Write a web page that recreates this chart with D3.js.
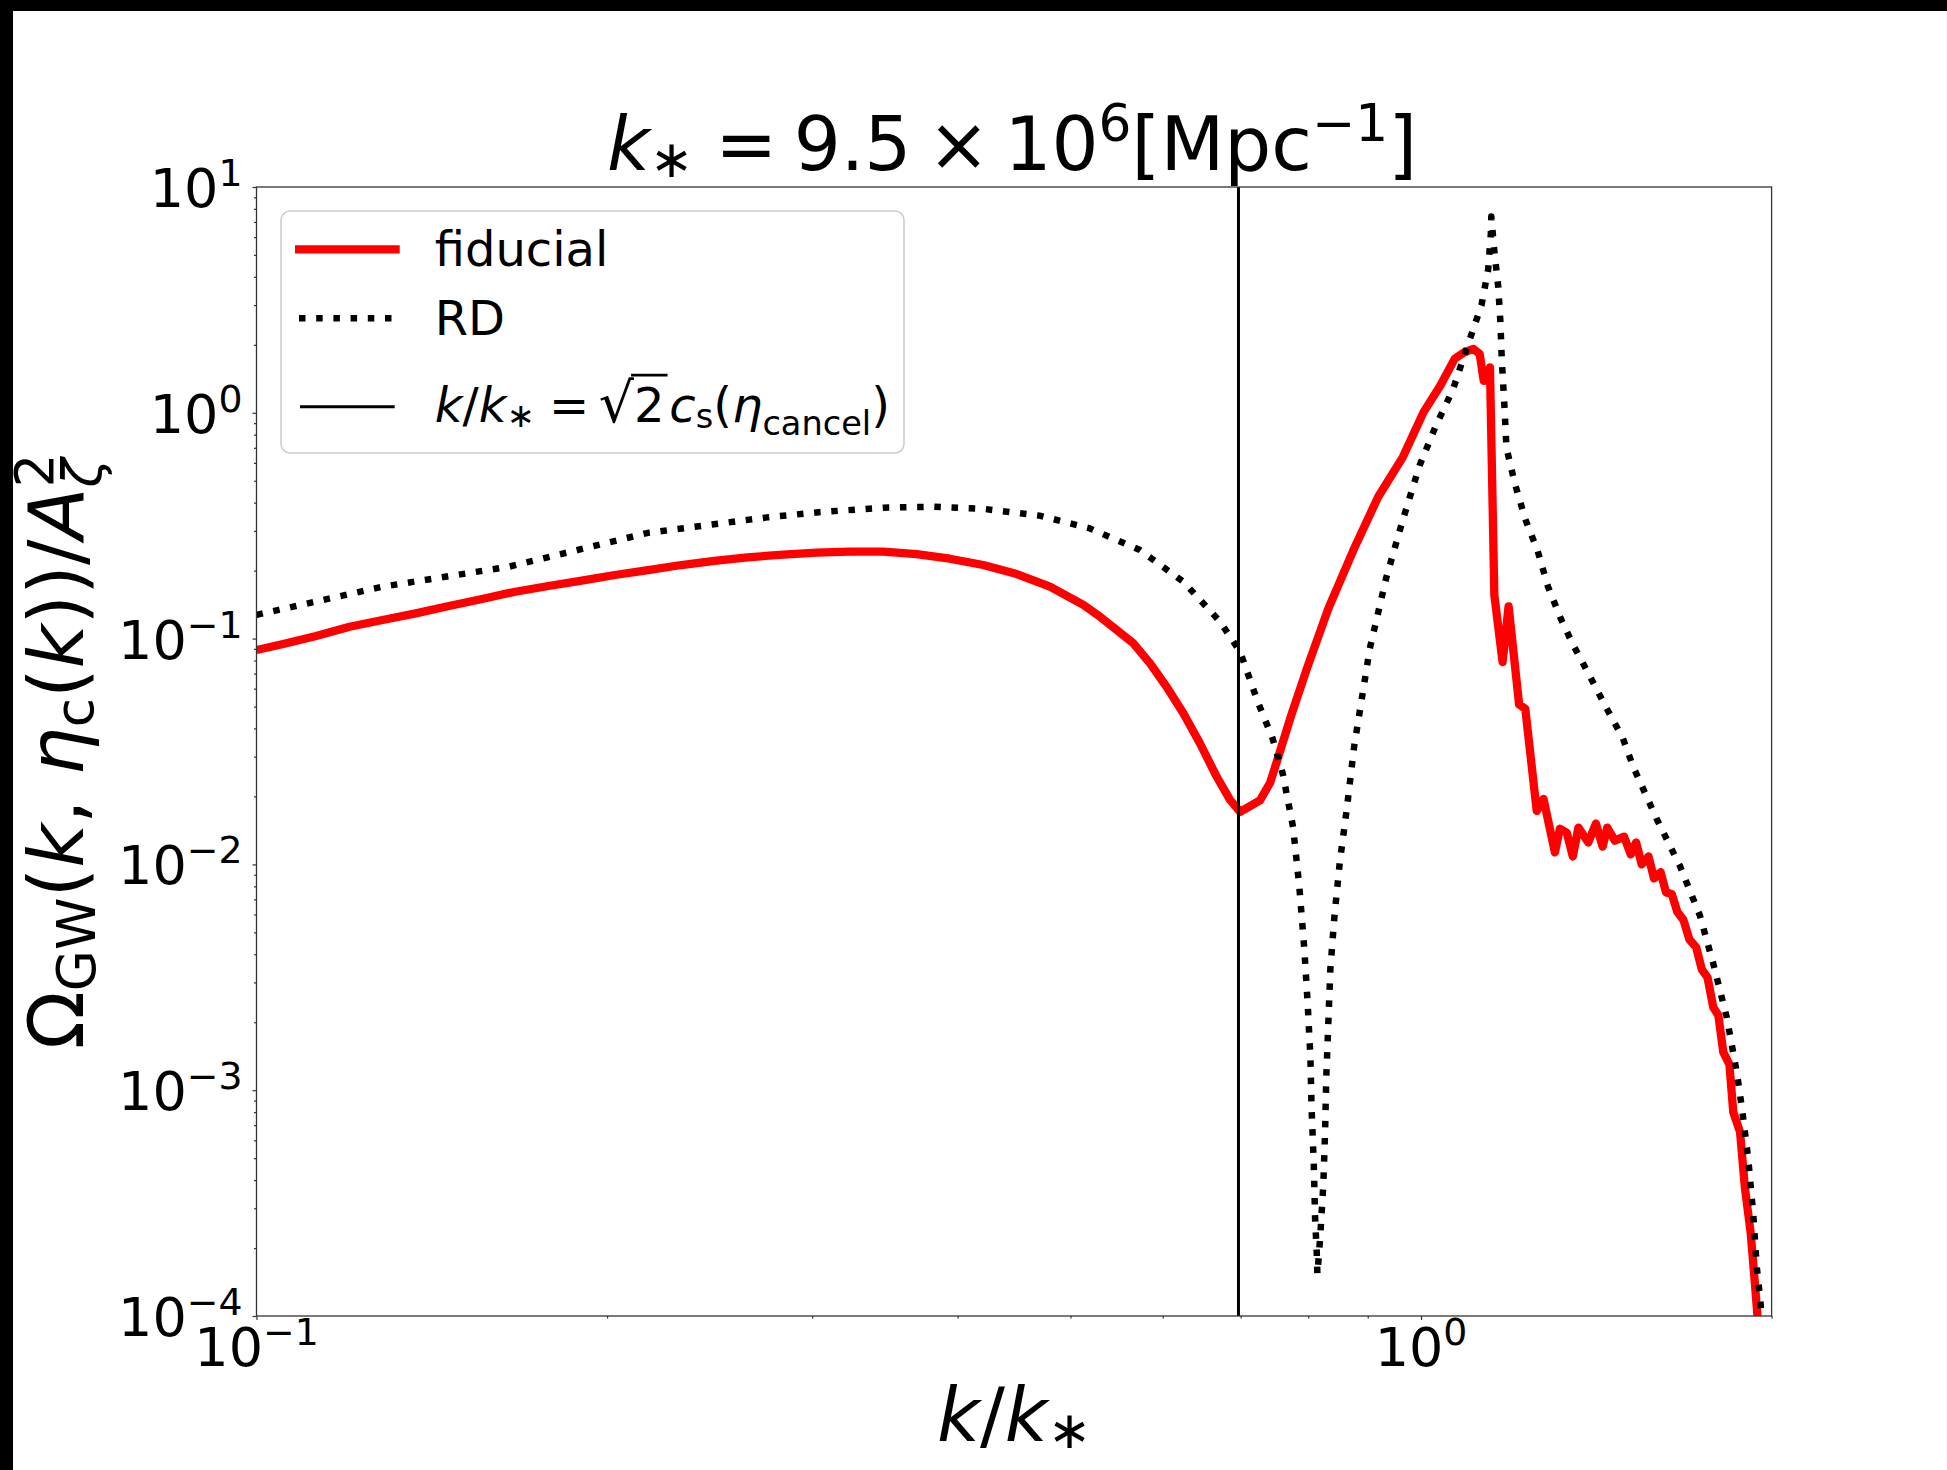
<!DOCTYPE html>
<html>
<head>
<meta charset="utf-8">
<script src="https://cdn.jsdelivr.net/npm/d3@7"></script>
<style>
  html, body { margin: 0; padding: 0; background: #fff; }
  svg { display: block; font-family: "DejaVu Sans", sans-serif; }
</style>
</head>
<body>
<script>
// --- data ---
const fiducialK = [0.100, 0.1054, 0.1125, 0.1202, 0.1283, 0.1370, 0.1463, 0.1562, 0.1668, 0.1781, 0.1902, 0.2031, 0.2169, 0.2316, 0.2472, 0.2640, 0.2834, 0.3027, 0.3233, 0.3453, 0.3688, 0.3939, 0.4208, 0.4496, 0.4801, 0.5129, 0.5300, 0.5479, 0.5662, 0.5852, 0.6046, 0.6250, 0.6458, 0.6675, 0.6855, 0.6992, 0.7273, 0.742, 0.7545, 0.7735, 0.7991, 0.8325, 0.8745, 0.9186, 0.9649, 1.005, 1.039, 1.069, 1.091, 1.109, 1.123, 1.132, 1.146, 1.156, 1.175, 1.189, 1.214, 1.229, 1.257, 1.274, 1.303, 1.316, 1.334, 1.350, 1.365, 1.392, 1.413, 1.432, 1.445, 1.467, 1.494, 1.514, 1.530, 1.547, 1.568, 1.585, 1.606, 1.623, 1.642, 1.660, 1.680, 1.700, 1.723, 1.742, 1.762, 1.782, 1.800, 1.818, 1.840, 1.854, 1.879, 1.897, 1.919, 1.936, 1.949];
const fiducialOmega = [0.0890, 0.0946, 0.1027, 0.1129, 0.1209, 0.1294, 0.1394, 0.1498, 0.1613, 0.1710, 0.1805, 0.1913, 0.2012, 0.2118, 0.2207, 0.2291, 0.2355, 0.2401, 0.2427, 0.2427, 0.2369, 0.2258, 0.2118, 0.1932, 0.1698, 0.1409, 0.125, 0.1092, 0.0953, 0.0777, 0.0612, 0.0467, 0.0344, 0.0245, 0.0193, 0.0171, 0.0192, 0.0230, 0.0302, 0.0456, 0.0752, 0.1358, 0.2455, 0.4236, 0.6383, 1.007, 1.321, 1.738, 1.862, 1.919, 1.820, 1.384, 1.589, 0.1556, 0.0787, 0.139, 0.0511, 0.0488, 0.01726, 0.0195, 0.0113, 0.01439, 0.0138, 0.01084, 0.01455, 0.0125, 0.01517, 0.012, 0.01455, 0.01274, 0.01327, 0.01107, 0.0125, 0.01, 0.01084, 0.00867, 0.00923, 0.00753, 0.00738, 0.00615, 0.00568, 0.00465, 0.00429, 0.00343, 0.00316, 0.00233, 0.00215, 0.00147, 0.0013, 0.0008, 0.000653, 0.000372, 0.000233, 0.000135, 0.0000871];

const rdK = [0.100, 0.1283, 0.1648, 0.2169, 0.2745, 0.3027, 0.3453, 0.3813, 0.4207, 0.4710, 0.5196, 0.5737, 0.6250, 0.6721, 0.6992, 0.7244, 0.7454, 0.7608, 0.7765, 0.7862, 0.7939, 0.7991, 0.8035, 0.8055, 0.8089, 0.8110, 0.8136, 0.8147, 0.8190, 0.8243, 0.8272, 0.8291, 0.8325, 0.8358, 0.8427, 0.8517, 0.8637, 0.8760, 0.9036, 0.9337, 0.9649, 0.9970, 1.030, 1.065, 1.100, 1.127, 1.142, 1.148, 1.149, 1.156, 1.165, 1.170, 1.173, 1.180, 1.184, 1.204, 1.229, 1.259, 1.285, 1.317, 1.350, 1.395, 1.441, 1.490, 1.522, 1.594, 1.669, 1.736, 1.782, 1.830, 1.867, 1.886, 1.910, 1.929, 1.942, 1.957, 1.965];
const rdOmega = [0.1274, 0.1698, 0.2083, 0.294, 0.3443, 0.3622, 0.3802, 0.3837, 0.3758, 0.3499, 0.3076, 0.2466, 0.1786, 0.1189, 0.0875, 0.0522, 0.0363, 0.0252, 0.0146, 0.0079, 0.00423, 0.00244, 0.00141, 0.000815, 0.00047, 0.000271, 0.000193, 0.000153, 0.000219, 0.00038, 0.000658, 0.00114, 0.00198, 0.00342, 0.00593, 0.01028, 0.01782, 0.0331, 0.0902, 0.1866, 0.3373, 0.5834, 0.879, 1.265, 2.084, 2.999, 4.325, 6.223, 7.396, 5.188, 3.606, 2.5, 1.738, 1.007, 0.6998, 0.4853, 0.3373, 0.2455, 0.1706, 0.1239, 0.0944, 0.0687, 0.0499, 0.0363, 0.0269, 0.01585, 0.0098, 0.00592, 0.00364, 0.00211, 0.0012, 0.000834, 0.000493, 0.00028, 0.000166, 0.000113, 0.0000794];

const kCancel = 0.697;

const xMajorTicks = [0.1, 1];
const xMajorExp = ["−1", "0"];
const xMinorTicks = [0.2, 0.3, 0.4, 0.5, 0.6, 0.7, 0.8, 0.9, 2];
const yMajorTicks = [1e1, 1e0, 1e-1, 1e-2, 1e-3, 1e-4];
const yMajorExp = ["1", "0", "−1", "−2", "−3", "−4"];
const yMinorTicks = [];
[1e-4, 1e-3, 1e-2, 1e-1, 1].forEach(d => { for (let m = 2; m <= 9; m++) yMinorTicks.push(d * m); });

const legendNames = ["fiducial", "RD"];

// --- layout ---
const width = 1947, height = 1470;
const axL = 256.5, axR = 1771.6, axT = 187, axB = 1316;
const tickFont = 54, legendFont = 48, titleFont = 74, labelFont = 76;

const x = d3.scaleLog().domain([0.1, 2]).range([axL, axR]);
const y = d3.scaleLog().domain([1e-4, 10]).range([axB, axT]);

const svg = d3.select("body").append("svg")
  .attr("width", width)
  .attr("height", height)
  .attr("viewBox", [0, 0, width, height]);

svg.append("rect").attr("width", width).attr("height", height).attr("fill", "#fff");

// black frame bands (top and left) as in the source image
svg.append("rect").attr("x", 0).attr("y", 0).attr("width", width).attr("height", 11).attr("fill", "#000");
svg.append("rect").attr("x", 0).attr("y", 0).attr("width", 13).attr("height", height).attr("fill", "#000");

// rich text helper: parts = [{t, i, s, dy, dx}]  (dy, dx in em of base size)
function rich(textSel, parts, size) {
  let cur = 0;
  parts.forEach(p => {
    const shift = (p.dy || 0) * size;
    const ts = textSel.append("tspan")
      .attr("font-size", size * (p.s || 1))
      .attr("font-style", p.i ? "italic" : "normal")
      .attr("dy", shift - cur)
      .text(p.t);
    if (p.cls) ts.attr("class", p.cls);
    if (p.dx) ts.attr("dx", p.dx * size);
    cur = shift;
  });
  return textSel;
}

svg.append("clipPath").attr("id", "clip")
  .append("rect").attr("x", axL).attr("y", axT).attr("width", axR - axL).attr("height", axB - axT);

const plot = svg.append("g").attr("clip-path", "url(#clip)");

const line = d3.line().x(d => x(d[0])).y(d => y(d[1]));

// fiducial
plot.append("path")
  .datum(d3.zip(fiducialK, fiducialOmega))
  .attr("fill", "none")
  .attr("stroke", "#ff0000")
  .attr("stroke-width", 8.3)
  .attr("stroke-linejoin", "round")
  .attr("stroke-linecap", "butt")
  .attr("d", line);

// RD dotted
plot.append("path")
  .datum(d3.zip(rdK, rdOmega))
  .attr("fill", "none")
  .attr("stroke", "#000")
  .attr("stroke-width", 6.5)
  .attr("stroke-dasharray", "6.5 10.7")
  .attr("stroke-linejoin", "round")
  .attr("d", line);

// vertical cancel line
plot.append("line")
  .attr("x1", x(kCancel)).attr("x2", x(kCancel))
  .attr("y1", axT).attr("y2", axB)
  .attr("stroke", "#000")
  .attr("stroke-width", 3);

// axes ticks
const axisColor = "#333";
function styleAxis(g) {
  g.select(".domain").remove();
  g.selectAll(".tick text").remove();
  g.selectAll(".tick line").attr("stroke", axisColor).attr("stroke-width", 1.2);
}
svg.append("g").attr("transform", `translate(0,${axB})`)
  .call(d3.axisBottom(x).tickValues(xMajorTicks).tickSize(4).tickFormat(""))
  .call(styleAxis);
svg.append("g").attr("transform", `translate(0,${axB})`)
  .call(d3.axisBottom(x).tickValues(xMinorTicks).tickSize(2.5).tickFormat(""))
  .call(styleAxis);
svg.append("g").attr("transform", `translate(${axL},0)`)
  .call(d3.axisLeft(y).tickValues(yMajorTicks).tickSize(4).tickFormat(""))
  .call(styleAxis);
svg.append("g").attr("transform", `translate(${axL},0)`)
  .call(d3.axisLeft(y).tickValues(yMinorTicks).tickSize(2.5).tickFormat(""))
  .call(styleAxis);

// spines
svg.append("rect")
  .attr("x", axL).attr("y", axT)
  .attr("width", axR - axL).attr("height", axB - axT)
  .attr("fill", "none").attr("stroke", axisColor).attr("stroke-width", 1.3);

// tick labels
xMajorTicks.forEach((v, i) => {
  const t = svg.append("text")
    .attr("x", x(v)).attr("y", axB + 50)
    .attr("text-anchor", "middle").attr("fill", "#000");
  rich(t, [{ t: "10" }, { t: xMajorExp[i], s: 0.7, dy: -0.39 }], tickFont);
});
yMajorTicks.forEach((v, i) => {
  const t = svg.append("text")
    .attr("x", axL - 14).attr("y", y(v) + 20)
    .attr("text-anchor", "end").attr("fill", "#000");
  rich(t, [{ t: "10" }, { t: yMajorExp[i], s: 0.7, dy: -0.39 }], tickFont);
});

// title
const title = svg.append("text")
  .attr("x", (axL + axR) / 2 - 2).attr("y", 170)
  .attr("text-anchor", "middle").attr("fill", "#000");
rich(title, [
  { t: "k", i: true },
  { t: "∗", s: 0.7, dy: 0.1 },
  { t: "=", dx: 0.3 },
  { t: "9.5", dx: 0.22 },
  { t: "×", dx: 0.22 },
  { t: "10", dx: 0.2 },
  { t: "6", s: 0.7, dy: -0.39 },
  { t: "[Mpc" },
  { t: "−1", s: 0.7, dy: -0.39 },
  { t: "]" }
], titleFont);

// x label
const xl = svg.append("text")
  .attr("x", (axL + axR) / 2).attr("y", 1441)
  .attr("text-anchor", "middle").attr("fill", "#000");
rich(xl, [
  { t: "k", i: true }, { t: "/" }, { t: "k", i: true },
  { t: "∗", s: 0.7, dy: 0.1 }
], titleFont);

// y label
const yl = svg.append("text")
  .attr("transform", `translate(83,${(axT + axB) / 2}) rotate(-90)`)
  .attr("text-anchor", "middle").attr("fill", "#000");
rich(yl, [
  { t: "Ω" },
  { t: "GW", s: 0.7, dy: 0.16 },
  { t: "(" },
  { t: "k", i: true },
  { t: ", " },
  { t: "η", i: true },
  { t: "c", s: 0.7, dy: 0.13 },
  { t: "(" },
  { t: "k", i: true },
  { t: "))/" },
  { t: "A", i: true },
  { t: "ζ", i: true, s: 0.7, dy: 0.24, cls: "zeta" },
  { t: "2", s: 0.7, dy: -0.39, cls: "sq" }
], labelFont);
{
  const zl = yl.select(".zeta").node().getComputedTextLength();
  yl.select(".sq").attr("dx", -zl);
}

// legend
const legend = svg.append("g");
legend.append("rect")
  .attr("x", 281).attr("y", 211)
  .attr("width", 623).attr("height", 242)
  .attr("rx", 9).attr("ry", 9)
  .attr("fill", "#fff").attr("fill-opacity", 0.8)
  .attr("stroke", "#cccccc").attr("stroke-width", 1.5);

const legendRows = [249.3, 318.3, 406.7];
legend.append("line")
  .attr("x1", 295).attr("x2", 399.7)
  .attr("y1", legendRows[0]).attr("y2", legendRows[0])
  .attr("stroke", "#ff0000").attr("stroke-width", 8.3);
legend.append("line")
  .attr("x1", 299).attr("x2", 399)
  .attr("y1", legendRows[1]).attr("y2", legendRows[1])
  .attr("stroke", "#000").attr("stroke-width", 6.5)
  .attr("stroke-dasharray", "6.5 10.7");
legend.append("line")
  .attr("x1", 300).attr("x2", 394.7)
  .attr("y1", legendRows[2]).attr("y2", legendRows[2])
  .attr("stroke", "#000").attr("stroke-width", 3);

legend.append("text").attr("x", 434.7).attr("y", 266).attr("font-size", legendFont)
  .attr("fill", "#000").text(legendNames[0]);
legend.append("text").attr("x", 434.7).attr("y", 335).attr("font-size", legendFont)
  .attr("fill", "#000").text(legendNames[1]);

const l3base = 421.7;
const l3 = legend.append("text").attr("x", 434.7).attr("y", l3base).attr("fill", "#000");
rich(l3, [
  { t: "k", i: true }, { t: "/" }, { t: "k", i: true },
  { t: "∗", s: 0.7, dy: 0.1 },
  { t: "=", dx: 0.3 },
  { t: "√", s: 1.15, dx: 0.2, cls: "rad" },
  { t: "2", cls: "two" },
  { t: "c", i: true, dx: 0.1 },
  { t: "s", s: 0.7, dy: 0.13 },
  { t: "(" },
  { t: "η", i: true },
  { t: "cancel", s: 0.7, dy: 0.27 },
  { t: ")" }
], legendFont);
{
  const rad = l3.select(".rad").node();
  const two = l3.select(".two").node();
  const x0 = rad.getEndPositionOfChar(0).x - 3;
  const x1 = two.getEndPositionOfChar(0).x + 3;
  const yy = l3base - 0.97 * legendFont;
  legend.append("line")
    .attr("x1", x0).attr("x2", x1)
    .attr("y1", yy).attr("y2", yy)
    .attr("stroke", "#000").attr("stroke-width", 2.6);
}
</script>
</body>
</html>
